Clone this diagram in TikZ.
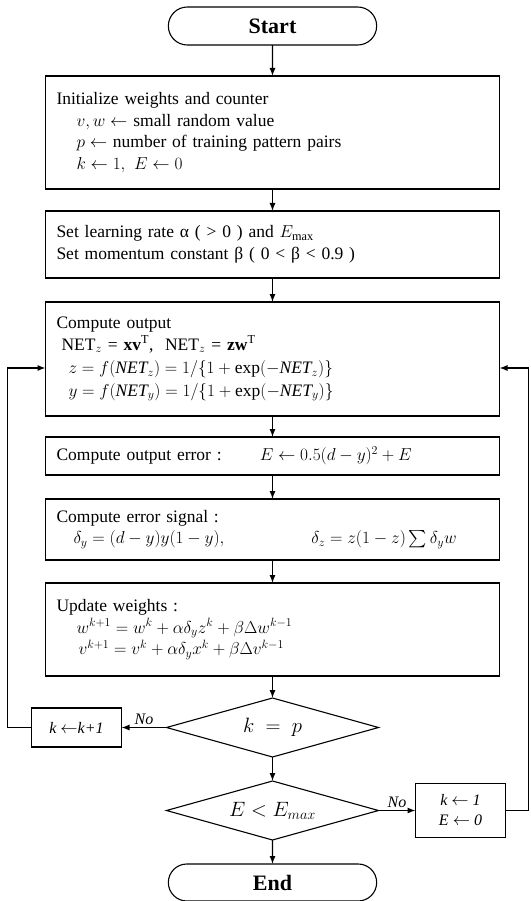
\documentclass[tikz,border=0pt]{standalone}
\usepackage{amsmath}
\usepackage{fontspec}
\setmainfont{Liberation Serif}
\usetikzlibrary{positioning,arrows.meta,shapes.misc,shapes.geometric}

\begin{document}
\begin{tikzpicture}[
      x=1pt, y=-1pt,
      font=\fontsize{17.5}{21.5}\selectfont,
      term/.style={draw, rounded rectangle, line width=1.1pt, outer sep=0pt,
                   minimum width=215pt, minimum height=38pt,
                   font=\fontsize{22}{26}\selectfont\bfseries},
      proc/.style={draw, line width=1.1pt, outer sep=0pt, text width=432pt,
                   inner xsep=11pt, inner ysep=2pt, align=left},
      dec/.style={draw, diamond, aspect=3.6, line width=1.1pt, outer sep=0pt,
                  inner sep=0pt, minimum width=212pt, minimum height=59pt,
                  font=\fontsize{22}{26}\selectfont},
      small/.style={draw, line width=1.1pt, outer sep=0pt, align=center,
                    minimum width=90pt, inner sep=2pt,
                    font=\fontsize{16}{20}\selectfont\itshape},
      arr/.style={-{Latex[length=8pt,width=6pt]}, line width=1.1pt},
      lbl/.style={font=\fontsize{16}{20}\selectfont\itshape, inner sep=2pt},
    ]
    \useasboundingbox[fill=white] (0,0) rectangle (530,901);

    % ---------- main column ----------
    \node[term] (start) at (272.5,26) {Start};
    \node[proc, minimum height=113pt, below=31pt of start] (init)
      {Initialize weights and counter\\
       \hspace*{20pt}$v, w \leftarrow$ small random value\\
       \hspace*{20pt}$p \leftarrow$ number of training pattern pairs\\
       \hspace*{20pt}$k \leftarrow 1,\ E \leftarrow 0$};
    \node[proc, minimum height=67pt, below=22pt of init] (rate)
      {Set learning rate α ( > 0 ) and $E_{\max}$\\
       Set momentum constant β ( 0 < β < 0.9 )};
    \node[proc, minimum height=114pt, below=24pt of rate] (comp)
      {Compute output\\
       \hspace*{5pt}NET$_z$ = \textbf{xv}$^{\mathrm{T}}$,\ \ NET$_z$ = \textbf{zw}$^{\mathrm{T}}$\\[2pt]
       \hspace*{12pt}$z=f(\mathit{NET}_z)=1/\{1+\exp(-\mathit{NET}_z)\}$\\[1pt]
       \hspace*{12pt}$y=f(\mathit{NET}_y)=1/\{1+\exp(-\mathit{NET}_y)\}$};
    \node[proc, minimum height=38pt, below=21pt of comp] (err)
      {Compute output error :\hspace{38pt}$E\leftarrow 0.5(d-y)^2+E$};
    \node[proc, minimum height=61pt, below=24pt of err] (sig)
      {Compute error signal :\\
       \hspace*{17pt}$\delta_y=(d-y)y(1-y),\hspace{84pt}
         \delta_z=z(1-z)\sum\delta_y w$};
    \node[proc, minimum height=93pt, below=23pt of sig] (upd)
      {Update weights :\\
       \hspace*{20pt}$w^{k+1}=w^k+\alpha\delta_y z^k+\beta\Delta w^{k-1}$\\
       \hspace*{22pt}$v^{k+1}=v^k+\alpha\delta_y x^k+\beta\Delta v^{k-1}$};
    \node[dec, below=22pt of upd] (chkk) {$k\ =\ p$};
    \node[dec, below=24pt of chkk] (chke) {$E < E_{max}$};
    \node[term, minimum height=37pt, below=24pt of chke] (end) {End};

    % ---------- side boxes ----------
    \node[small, minimum height=39pt, left=45pt of chkk] (inck)
      {k $\leftarrow$k+1};
    \node[small, minimum height=54pt, right=37pt of chke] (reset)
      {k $\leftarrow$ 1\\E $\leftarrow$ 0};

    \draw[arr] (start) -- (init);
    \draw[arr] (init) -- (rate);
    \draw[arr] (rate) -- (comp);
    \draw[arr] (comp) -- (err);
    \draw[arr] (err) -- (sig);
    \draw[arr] (sig) -- (upd);
    \draw[arr] (upd) -- (chkk);
    \draw[arr] (chkk) -- (chke);
    \draw[arr] (chke) -- (end);

    % ---------- loops ----------
    \draw[arr] (chkk) -- node[lbl, above] {No} (inck);
    \draw[arr] (inck.west) -- ++(-24,0) |- ([yshift=-9pt]comp.west);
    \draw[arr] (chke) -- node[lbl, above] {No} (reset);
    \draw[arr] (reset.east) -- ++(23,0) |- ([yshift=-9pt]comp.east);
  \end{tikzpicture}
\end{document}
